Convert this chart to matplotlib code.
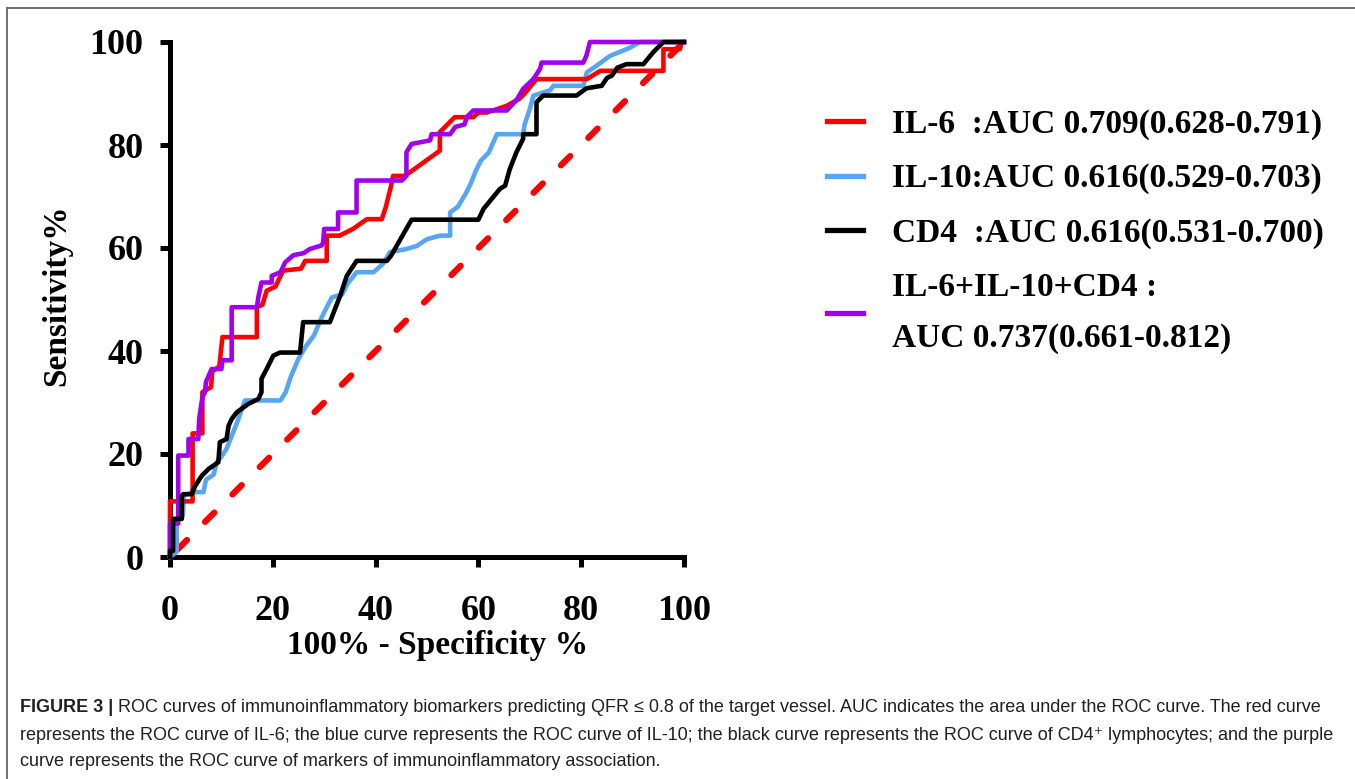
import matplotlib
matplotlib.use('Agg')

import matplotlib.pyplot as plt
from matplotlib.lines import Line2D

# -------------------
# ROC curve vertices (x = 100% - specificity, y = sensitivity)
# -------------------
il6_x = [0, 0, 4.4, 4.4, 6.3, 6.3, 8.0, 8.2, 9.6, 10.2, 16.9, 16.9, 18.0, 18.8, 20.5, 22.0,
         25.5, 26.3, 30.5, 30.5, 33.0, 35.6, 38.3, 41.2, 42.0, 43.0, 43.4, 45.7, 52.5, 52.5,
         54.0, 55.4, 59.0, 60.0, 61.6, 65.5, 68.0, 69.0, 71.3, 81.1, 83.7, 96.0, 96.0, 99.2,
         99.5, 100]
il6_y = [0, 10.8, 10.8, 24.0, 24.0, 32.0, 33.0, 36.0, 37.0, 42.7, 42.7, 48.5, 49.0, 51.7,
         52.5, 55.6, 56.0, 57.5, 57.5, 62.4, 62.4, 63.7, 65.6, 65.6, 68.0, 72.0, 74.0, 74.0,
         78.9, 82.5, 84.0, 85.4, 85.4, 86.3, 86.3, 87.6, 89.0, 90.0, 92.8, 92.8, 94.4, 94.4,
         98.6, 98.6, 100, 100]

il10_x = [0, 1.3, 1.3, 2.5, 2.7, 4.5, 6.5, 7.0, 8.5, 9.1, 10.0, 11.0, 12.0, 13.0, 14.6, 21.5,
          22.5, 23.5, 25.0, 26.5, 28.0, 29.5, 30.5, 31.5, 33.5, 34.5, 36.3, 39.6, 41.5, 42.8,
          46.0, 48.0, 50.0, 52.5, 54.5, 54.5, 56.0, 57.5, 58.5, 59.5, 60.5, 62.0, 63.6, 68.7,
          69.0, 70.0, 70.7, 73.9, 74.6, 80.4, 81.1, 83.0, 85.6, 89.5, 91.4, 100]
il10_y = [0, 1.0, 7.4, 8.0, 11.9, 12.6, 12.6, 15.0, 16.0, 18.4, 19.5, 21.0, 23.5, 26.0, 30.4,
          30.4, 32.0, 35.0, 38.5, 41.0, 43.0, 46.5, 48.5, 50.4, 51.0, 53.0, 55.3, 55.3, 57.0,
          59.2, 59.8, 60.4, 61.7, 62.4, 62.4, 66.9, 68.0, 70.5, 72.5, 75.0, 77.0, 78.5, 82.1,
          82.1, 84.0, 87.0, 89.6, 90.6, 91.5, 91.5, 94.1, 95.4, 97.3, 98.9, 100, 100]

cd4_x = [0, 0, 0.6, 0.6, 2.3, 2.3, 2.6, 4.2, 4.9, 6.2, 7.5, 9.4, 9.7, 11.0, 11.4, 12.0, 13.0,
         15.2, 17.2, 17.8, 17.8, 18.8, 20.1, 21.4, 25.3, 25.9, 31.1, 33.1, 34.4, 36.3, 42.2,
         43.0, 47.0, 60.0, 61.0, 64.2, 65.2, 66.1, 67.4, 68.7, 68.7, 71.3, 71.3, 72.6, 79.1,
         81.0, 84.0, 85.0, 86.0, 87.0, 88.8, 92.1, 94.0, 96.0, 100]
cd4_y = [0, 1.2, 1.2, 7.4, 7.4, 11.9, 12.2, 12.2, 13.8, 15.8, 17.1, 18.4, 22.3, 22.9, 25.5,
         26.8, 28.1, 29.7, 30.7, 32.0, 34.6, 36.5, 39.1, 39.7, 39.7, 45.6, 45.6, 50.7, 54.6,
         57.5, 57.5, 58.5, 65.5, 65.5, 67.6, 71.5, 72.1, 75.3, 78.6, 81.2, 82.1, 82.1, 88.3,
         89.6, 89.6, 91.0, 91.5, 93.0, 93.5, 95.0, 95.7, 95.7, 98.0, 100, 100]

combo_x = [0, 0, 1.6, 1.6, 3.6, 3.6, 5.5, 5.7, 6.3, 6.8, 7.0, 8.1, 10.0, 10.2, 12.0, 12.0,
           16.9, 17.2, 17.8, 19.8, 19.8, 21.5, 22.4, 24.0, 26.0, 27.2, 29.5, 29.8, 30.0,
           32.7, 32.7, 36.3, 36.3, 45.1, 46.0, 46.0, 47.0, 50.6, 50.9, 54.5, 55.5, 57.3,
           57.8, 59.0, 65.5, 67.4, 68.7, 70.7, 72.0, 72.3, 80.4, 81.0, 81.7, 100]
combo_y = [0, 6.5, 6.5, 19.7, 19.7, 22.9, 22.9, 27.0, 31.0, 32.0, 34.0, 36.5, 36.5, 38.2,
           38.2, 48.5, 48.5, 50.5, 53.3, 53.3, 54.6, 55.3, 57.2, 58.6, 59.0, 59.8, 60.5,
           61.1, 63.7, 63.7, 66.9, 66.9, 73.1, 73.1, 74.0, 78.6, 80.2, 80.9, 82.1, 82.1,
           83.5, 84.0, 85.5, 86.7, 86.7, 88.7, 90.9, 92.8, 94.8, 96.0, 96.0, 97.3, 100, 100]

labels = ['IL-6  :AUC 0.709(0.628-0.791)',
          'IL-10:AUC 0.616(0.529-0.703)',
          'CD4  :AUC 0.616(0.531-0.700)',
          'IL-6+IL-10+CD4 :\nAUC 0.737(0.661-0.812)']
ticks = [0, 20, 40, 60, 80, 100]

RED = '#ff0000'
BLUE = '#57a6f4'
BLACK = '#000000'
PURPLE = '#a100ec'

serif = ['Liberation Serif', 'DejaVu Serif']
sans = ['Liberation Sans', 'DejaVu Sans']

W, H = 1355, 779
fig = plt.figure(figsize=(W / 100, H / 100), dpi=100)
ax = fig.add_axes([170 / W, (H - 557) / H, 514 / W, 515 / H])

lw = 3.3
# reference diagonal
ax.plot([1.5, 100], [1.5, 100], color=RED, lw=4.5, dashes=(2.1, 4.1),
        dash_capstyle='round', clip_on=False, zorder=2)
ax.plot(il10_x, il10_y, color=BLUE, lw=lw, clip_on=False, zorder=3)
ax.plot(il6_x, il6_y, color=RED, lw=lw, clip_on=False, zorder=4)
ax.plot(combo_x, combo_y, color=PURPLE, lw=lw, clip_on=False, zorder=5)
ax.plot(cd4_x, cd4_y, color=BLACK, lw=lw, clip_on=False, zorder=6)

ax.set_xlim(0, 100)
ax.set_ylim(0, 100)
ax.set_xticks(ticks)
ax.set_yticks(ticks)
for s in ['top', 'right']:
    ax.spines[s].set_visible(False)
for s in ['left', 'bottom']:
    ax.spines[s].set_linewidth(3.6)
ax.tick_params(direction='out', length=7, width=3.6)
ax.tick_params(axis='y', pad=12)
ax.tick_params(axis='x', pad=20)
for t in ax.get_xticklabels() + ax.get_yticklabels():
    t.set_family(serif)
    t.set_fontweight('bold')
    t.set_fontsize(26)

ax.set_xlabel('100% - Specificity %', family=serif, fontweight='bold', fontsize=24, va='center')
ax.set_ylabel('Sensitivity%', family=serif, fontweight='bold', fontsize=24, va='center')
ax.xaxis.set_label_coords(0.521, -0.171)
ax.yaxis.set_label_coords(-0.22, 0.509)

handles = [Line2D([], [], color=c, lw=3.8) for c in [RED, BLUE, BLACK, PURPLE]]
leg = fig.legend(handles, labels, loc='upper left', bbox_to_anchor=(810 / W, 1 - 92 / H),
                 frameon=False, prop={'family': serif, 'weight': 'bold', 'size': 24},
                 handlelength=1.1, handletextpad=0.85, labelspacing=0.7, borderpad=0)
leg.get_texts()[3].set_linespacing(1.8)

# caption
fs = 13
b = fig.text(20 / W, 1 - 708 / H, 'FIGURE 3 |', family=sans, fontweight='bold',
             fontsize=fs, va='center', color='#231f20')
fig.canvas.draw()
bb = b.get_window_extent()
fig.text((bb.x1 + 5) / W, 1 - 708 / H,
         'ROC curves of immunoinflammatory biomarkers predicting QFR \u2264 0.8 of the target vessel. '
         'AUC indicates the area under the ROC curve. The red curve',
         family=sans, fontsize=fs, va='center', color='#231f20')
fig.text(20 / W, 1 - 735 / H,
         'represents the ROC curve of IL-6; the blue curve represents the ROC curve of IL-10; '
         'the black curve represents the ROC curve of CD4\u207a lymphocytes; and the purple',
         family=sans, fontsize=fs, va='center', color='#231f20')
fig.text(20 / W, 1 - 762 / H,
         'curve represents the ROC curve of markers of immunoinflammatory association.',
         family=sans, fontsize=fs, va='center', color='#231f20')

# page frame
fig.add_artist(Line2D([7 / W, 7 / W], [0, 1 - 8 / H], color='#666666', lw=1.3))
fig.add_artist(Line2D([7 / W, 1], [1 - 8 / H, 1 - 8 / H], color='#666666', lw=1.3))

fig.savefig('out.png', dpi=100)
